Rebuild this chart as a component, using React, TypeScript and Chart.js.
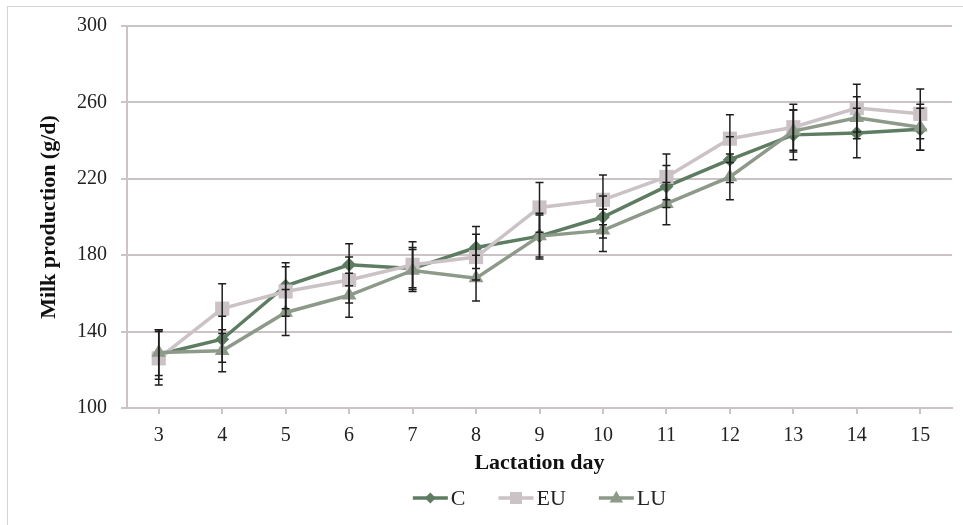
import React, { useEffect, useRef } from "react";
import { Chart, registerables } from "chart.js";

Chart.register(...registerables);

// ---- Data ----
const days = ["3", "4", "5", "6", "7", "8", "9", "10", "11", "12", "13", "14", "15"];
const seriesC = [128, 136, 164, 175, 173, 184, 190, 200, 216, 230, 243, 244, 246];
const seriesEU = [126, 152, 161, 167, 175, 179, 205, 209, 221, 241, 247, 257, 254];
const seriesLU = [129, 130, 150, 159, 172, 168, 190, 193, 207, 221, 245, 252, 247];
const errC = [13, 12, 12, 11, 11, 11, 12, 11, 11, 12, 13, 13, 11];
const errEU = [14, 13, 13, 12, 12, 12, 13, 13, 12, 12.5, 12, 12.5, 13];
const errLU = [12, 11, 12, 11.5, 11, 12, 11, 11, 11, 12, 11, 11, 12];
const yTickValues = [100, 140, 180, 220, 260, 300];

const COLOR_C = "#5d7c61";
const COLOR_EU = "#cbc2c6";
const COLOR_LU = "#8d9a8a";
const GRID = "#cbc3c6";
const FONT = "'Liberation Serif', 'DejaVu Serif', serif";

const errorsByDataset = [errC, errEU, errLU];

const errorBarPlugin = {
  id: "errorBars",
  afterDatasetsDraw(chart: any) {
    const ctx = chart.ctx;
    const y = chart.scales.y;
    ctx.save();
    ctx.strokeStyle = "#1e1e1e";
    ctx.lineWidth = 1.5;
    chart.data.datasets.forEach((ds: any, di: number) => {
      const meta = chart.getDatasetMeta(di);
      const errs = errorsByDataset[di];
      meta.data.forEach((pt: any, i: number) => {
        const v = ds.data[i];
        const e = errs[i];
        const x = pt.x;
        const yt = y.getPixelForValue(v + e);
        const yb = y.getPixelForValue(v - e);
        ctx.beginPath();
        ctx.moveTo(x, yt);
        ctx.lineTo(x, yb);
        ctx.moveTo(x - 4, yt);
        ctx.lineTo(x + 4, yt);
        ctx.moveTo(x - 4, yb);
        ctx.lineTo(x + 4, yb);
        ctx.stroke();
      });
    });
    ctx.restore();
  },
};

function drawMarker(ctx: CanvasRenderingContext2D, style: string, x: number, y: number, r: number) {
  ctx.beginPath();
  if (style === "rectRot") {
    ctx.moveTo(x, y - r);
    ctx.lineTo(x + r, y);
    ctx.lineTo(x, y + r);
    ctx.lineTo(x - r, y);
  } else if (style === "rect") {
    ctx.rect(x - r, y - r, 2 * r, 2 * r);
  } else {
    ctx.moveTo(x, y - r * 1.1);
    ctx.lineTo(x + r * 1.05, y + r * 0.7);
    ctx.lineTo(x - r * 1.05, y + r * 0.7);
  }
  ctx.closePath();
  ctx.fill();
}

const legendPlugin = {
  id: "customLegend",
  afterDraw(chart: any) {
    const ctx = chart.ctx;
    const { left, right } = chart.chartArea;
    ctx.save();
    ctx.font = `22px ${FONT}`;
    const lineLen = 35;
    const gap = 3;
    const spacing = 33;
    const items = chart.data.datasets.map((ds: any) => ({
      ds,
      w: ctx.measureText(ds.label).width,
    }));
    const total =
      items.reduce((s: number, it: any) => s + lineLen + gap + it.w, 0) + spacing * (items.length - 1);
    let x = (left + right) / 2 - total / 2;
    const y = 498;
    const markerR: Record<string, number> = { rectRot: 5.5, rect: 6, triangle: 6.5 };
    items.forEach((it: any) => {
      const c = it.ds.borderColor;
      ctx.strokeStyle = c;
      ctx.fillStyle = c;
      ctx.lineWidth = 3.5;
      ctx.beginPath();
      ctx.moveTo(x, y);
      ctx.lineTo(x + lineLen, y);
      ctx.stroke();
      drawMarker(ctx, it.ds.pointStyle, x + lineLen / 2, y, markerR[it.ds.pointStyle]);
      ctx.fillStyle = "#222";
      ctx.textBaseline = "middle";
      ctx.textAlign = "left";
      ctx.fillText(it.ds.label, x + lineLen + gap, y + 1);
      x += lineLen + gap + it.w + spacing;
    });
    ctx.restore();
  },
};

export default function App() {
  const canvasRef = useRef<HTMLCanvasElement | null>(null);

  useEffect(() => {
    document.body.style.margin = "0";
    const canvas = canvasRef.current;
    if (!canvas) return;
    const chart = new Chart(canvas, {
      type: "line",
      data: {
        labels: days,
        datasets: [
          {
            label: "C",
            data: seriesC,
            borderColor: COLOR_C,
            backgroundColor: COLOR_C,
            pointStyle: "rectRot",
            pointRadius: 7,
            pointBorderWidth: 0,
            borderWidth: 3.5,
            order: 2,
          },
          {
            label: "EU",
            data: seriesEU,
            borderColor: COLOR_EU,
            backgroundColor: COLOR_EU,
            pointStyle: "rect",
            pointRadius: 10,
            pointBorderWidth: 0,
            borderWidth: 3.5,
            order: 1,
          },
          {
            label: "LU",
            data: seriesLU,
            borderColor: COLOR_LU,
            backgroundColor: COLOR_LU,
            pointStyle: "triangle",
            pointRadius: 8.5,
            pointBorderWidth: 0,
            borderWidth: 3.5,
            order: 0,
          },
        ],
      },
      options: {
        animation: false,
        responsive: false,
        maintainAspectRatio: false,
        layout: { padding: { left: 0, right: 11, top: 26, bottom: 47 } },
        plugins: {
          legend: { display: false },
          tooltip: { enabled: false },
        },
        scales: {
          x: {
            offset: true,
            grid: {
              offset: false,
              drawOnChartArea: false,
              drawTicks: true,
              tickLength: 6,
              color: GRID,
              lineWidth: 2,
            },
            border: { display: true, color: GRID, width: 2 },
            ticks: {
              color: "#222",
              font: { family: FONT, size: 20 },
              padding: 10,
              maxRotation: 0,
              autoSkip: false,
            },
            title: {
              display: true,
              text: "Lactation day",
              color: "#111",
              font: { family: FONT, size: 22, weight: "bold" },
              padding: { top: 0, bottom: 1 },
            },
            afterFit(scale: any) {
              scale.height = 70;
            },
          },
          y: {
            min: 100,
            max: 300,
            afterBuildTicks(scale: any) {
              scale.ticks = yTickValues.map((v) => ({ value: v }));
            },
            grid: {
              color: GRID,
              lineWidth: 2,
              drawTicks: true,
              tickLength: 6,
            },
            border: { display: true, color: GRID, width: 2 },
            ticks: {
              color: "#222",
              font: { family: FONT, size: 20 },
              padding: 14,
            },
            title: {
              display: true,
              text: "Milk production (g/d)",
              color: "#111",
              font: { family: FONT, size: 22, weight: "bold" },
              padding: { top: 36, bottom: 0 },
            },
            afterFit(scale: any) {
              scale.width = 127;
            },
          },
        },
      },
      plugins: [errorBarPlugin, legendPlugin],
    });
    return () => chart.destroy();
  }, []);

  return (
    <div style={{ position: "relative", width: 963, height: 525 }}>
      <canvas ref={canvasRef} width={963} height={525} style={{ display: "block" }} />
      <div
        style={{
          position: "absolute",
          left: 7,
          top: 6,
          width: 956,
          height: 519,
          borderTop: "1.5px solid #d4d4d4",
          borderLeft: "1.5px solid #d4d4d4",
          pointerEvents: "none",
        }}
      />
    </div>
  );
}
